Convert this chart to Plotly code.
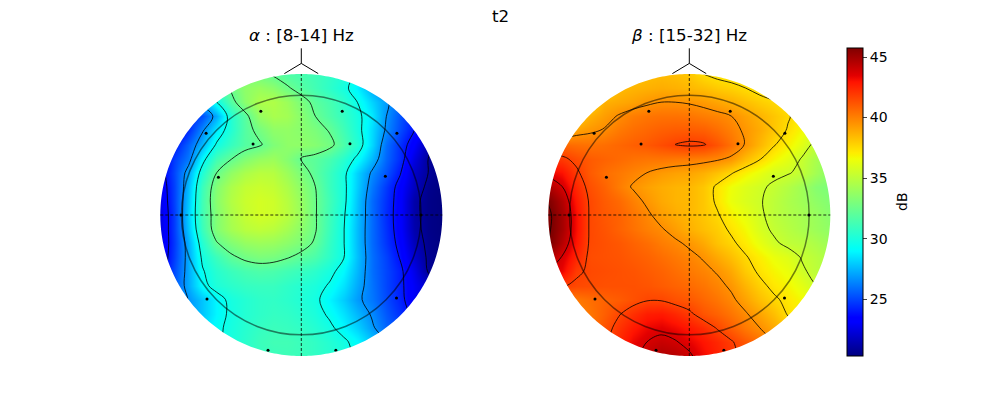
import numpy as np
import plotly.graph_objects as go

grid_x = [-1.0,-0.9,-0.8,-0.7,-0.6,-0.5,-0.4,-0.3,-0.2,-0.1,0.0,0.1,0.2,0.3,0.4,0.5,0.6,0.7,0.8,0.9,1.0]
grid_y = [1.0,0.9,0.8,0.7,0.6,0.5,0.4,0.3,0.2,0.1,0.0,-0.1,-0.2,-0.3,-0.4,-0.5,-0.6,-0.7,-0.8,-0.9,-1.0]

alpha_db = [
[25.6,26.1,26.7,27.6,29.4,32.6,32.9,32.7,32.2,31.6,31.4,31.1,30.7,30.2,29.4,28.3,26.9,25.6,24.5,23.4,22.4],
[25.6,27.2,28.9,30.5,31.5,32.6,33.6,33.9,33.5,32.6,31.8,31.2,30.6,29.9,28.8,27.2,26.1,25.1,24,22.9,21.9],
[22.4,24,25.6,27.2,29.5,31.8,33.5,34.5,34.6,34,33,32,31.4,30.6,29.5,28.1,26.9,25.8,24.5,23.4,22.4],
[21.3,22.4,24.1,25.2,27.2,30.3,31.9,33.8,34.4,34.2,33.4,32.4,31.6,30.8,29.9,28.6,26.7,25.3,24.1,23,22.2],
[21.3,22.7,24.4,26.5,28.6,30.3,31.8,32.8,33.6,33.7,33.4,33,32.3,31.2,30,28.3,26.5,25.1,23.8,22.8,22],
[22.4,24,25.6,27.5,29.7,30.9,31.8,32.2,33.1,33.6,33.6,33.3,32.8,31.6,30.3,28.2,25.9,24.5,23.1,21.3,20.4],
[22.7,24.8,26.1,29,31.2,32.3,33.2,33.8,34,33.3,32.3,32,31.4,30.5,29.2,27.5,25.7,24.4,22.4,20.9,20.3],
[23.1,25,27.2,30.2,32.4,33.7,34.5,34.9,34.8,34,33,32,31,29.9,28.1,26.5,25.3,23.9,21.9,20.9,20.3],
[22.8,24.9,27.6,31,33.2,34.5,35.2,35.4,35.2,34.5,33.5,32.4,31,29.9,28,26.1,24.7,23.3,21.7,20.6,20.3],
[22.6,24.9,27.8,31.2,33.4,34.7,35.4,35.7,35.5,34.8,33.8,32.5,31.2,29.9,27.8,25.8,24.5,23.2,21.2,20.5,20.3],
[22.4,24.8,28,31.2,33.2,34.5,35.3,35.7,35.5,34.9,33.9,32.5,31.1,29.7,27.7,25.8,24.4,23.2,21.2,20.5,20.3],
[22.4,24.8,27.8,31,33.2,34.3,34.9,35.1,34.9,34.3,33.5,32.5,31,29.6,27.6,25.8,24.5,23.2,21.3,20.5,20.3],
[22.4,24.7,27.3,30.3,32.3,33.2,33.8,34,33.9,33.5,33,32.2,30.8,29.6,27.6,25.8,24.6,23.4,21.6,20.6,20.3],
[22.6,24.8,27.2,29.8,31,32.1,32.7,33,32.9,32.5,32,31.5,30.6,29.6,27.7,25.9,24.9,23.7,22,20.7,20.3],
[22.9,25.1,27.2,29.4,30.4,31,31.4,31.6,31.5,31.2,30.9,30.5,29.9,29,27.5,25.9,25,24.1,22.6,20.8,20.3],
[23.4,25.4,27.2,29.1,30.1,30.5,30.8,30.9,30.9,30.6,30.3,30,29.4,28.5,27.2,26,25,24.1,22.9,21.9,20.8],
[24.5,25.6,26.7,27.8,28.9,29.9,30.3,30.6,30.7,30.5,30.2,29.8,28.9,28,26.9,26.1,25.1,24.2,22.9,21.9,21.3],
[24.5,25.6,26.7,27.8,28.9,29.8,30.3,30.6,30.8,30.7,30.4,30,29.3,28.5,27.5,26.5,25.4,24.5,23.4,22.4,21.9],
[25.1,26.1,27.2,28.3,29.2,29.9,30.4,30.8,31,30.9,30.7,30.3,29.8,29,28.1,26.9,25.7,25.1,24,23.4,22.4],
[25.6,26.7,27.8,28.6,29.2,30,30.5,31,31.2,31.2,31,30.7,30.3,29.8,29,27.8,26.7,25.6,24.5,24,23.4],
[25.6,26.7,27.8,28.6,29.2,29.9,30.4,30.8,31,31.1,31,30.7,30.4,30,29.2,28.1,26.9,25.8,24.7,24.1,23.4],
]

beta_db = [
[35,35.3,35.8,36.4,37,37.6,38,38.3,38.4,38.3,38.1,37.5,37.2,37,36.8,36.5,36.2,35.8,35.4,35,34.6],
[35,35.4,35.9,36.5,37.4,38.4,38.6,38.7,38.8,38.7,38.5,38.3,38,37.8,37.5,37.1,36.8,36.5,36,35.6,35.2],
[35.5,36,36.5,37.6,38.7,38.9,39.1,39.4,39.6,39.6,39.5,39.3,39,38.7,38.3,37.9,37.6,37.2,36.6,36,35],
[36.5,36.8,37.8,38.7,39.2,39.7,40.1,40.3,40.4,40.4,40.3,40.1,39.9,39.6,39.1,38.6,38.1,37.6,37,36.3,35.5],
[38,38.3,39.1,39.4,39.7,40.2,40.5,40.7,40.9,41,41,40.9,40.5,40,39.4,38.8,38.1,37.4,36.7,36,35],
[41,40.7,40.5,40.4,40.5,40.7,40.9,41.1,41.4,41.7,41.9,41.8,41.2,40.4,39.5,38.5,37.6,36.9,36.1,35,34.2],
[42.2,41.9,41.4,41,40.8,40.6,40.4,40.3,40.3,40.2,40.1,40,39.8,39.4,38.4,37.6,36.8,36.2,35.3,34.4,33.5],
[43.4,43,41.9,41,40.5,40.2,39.9,39.6,39.3,39.1,39,38.7,38.2,37.6,36.9,36.3,35.7,35.5,35.1,34.2,33.4],
[44.8,43.8,42.4,41.3,40.8,40.1,39.5,39.1,38.8,38.6,38.5,38.1,37.3,36.5,36,35.6,35.2,34.7,34.1,33.3,33],
[45.8,44.6,42.8,41.5,41,40.6,40,39.4,38.9,38.6,38.5,38.1,37.3,36.4,35.9,35.5,35,34.5,34.1,33.6,33.2],
[46.2,44.9,43.1,41.5,41.1,40.8,40.3,39.8,39.2,38.8,38.5,38.1,37.6,36.9,36.3,35.6,35,34.6,34.3,33.9,33.4],
[46.1,44.9,43.1,41.5,41.2,40.8,40.4,40,39.7,39.2,38.7,38.3,37.9,37.3,36.7,35.8,35.2,34.8,34.4,34,33.6],
[46,44.5,42.9,41.5,41.3,41.1,40.8,40.5,40.1,39.8,39.4,38.9,38.2,37.7,37.1,36.3,35.6,35.1,34.9,34.5,34],
[44.8,43.7,42.5,41.4,41.3,41.2,41,40.8,40.5,40.2,39.9,39.5,38.9,38.3,37.6,37,36.4,36,35.3,34.9,34.4],
[43.8,43.3,41.9,41.5,41.4,41.3,41.2,41,40.8,40.5,40.2,39.9,39.5,38.9,38,37.3,36.8,36.4,35.6,35,34.5],
[42,41.8,41.5,41.4,41.3,41.3,41.3,41.2,41,40.8,40.6,40.3,39.9,39.4,38.6,37.8,37.2,36.8,36.2,35.4,35],
[40,40,40.2,40.5,40.8,41,41.3,41.6,41.6,41.3,41.1,40.7,40.3,39.8,39.1,38.3,37.7,37.2,36.7,36.2,35.5],
[39,39.3,39.8,40.3,40.9,41.6,42.2,42.7,42.8,42.4,41.9,41.2,40.8,40.3,39.7,39,38.3,37.4,36.9,36.4,36],
[38.5,39,39.5,40.2,41.2,42.1,42.8,43.3,43.5,43.2,42.8,42.3,41.6,40.9,40.2,39.6,38.9,38,37.4,36.8,36.3],
[38.5,39,39.7,40.6,41.5,42.4,43.3,43.8,44.1,43.9,43.4,42.9,42.4,41.8,41.1,40.4,39.5,38.7,37.9,37.3,36.8],
[38.5,39,39.8,40.8,41.8,42.7,43.5,44.2,44.7,44.5,44,43.2,42.6,42,41.3,40.6,39.7,38.9,38.2,37.6,37],
]

sensor_x = [-0.287,0.29,-0.675,0.678,-0.342,0.345,-0.588,0.596,-0.853,0.848,-0.669,0.675,-0.236,0.245]
sensor_y = [0.735,0.735,0.579,0.579,0.503,0.505,0.267,0.275,0.0,0.0,-0.596,-0.589,-0.96,-0.96]

titles = ["<i>α</i> : [8-14] Hz", "<i>β</i> : [15-32] Hz"]
alpha_levels = dict(start=20.9, end=32.4, size=2.875)
beta_levels = dict(start=35.4, end=45.9, size=2.1)
cbar_ticks = [25, 30, 35, 40, 45]

jet = [
    [0.0, "rgb(0,0,128)"], [0.11, "rgb(0,0,255)"], [0.125, "rgb(0,0,255)"],
    [0.34, "rgb(0,250,255)"], [0.35, "rgb(0,255,246)"], [0.375, "rgb(21,255,226)"],
    [0.64, "rgb(240,255,6)"], [0.65, "rgb(247,245,0)"], [0.66, "rgb(255,236,0)"],
    [0.89, "rgb(255,19,0)"], [0.91, "rgb(227,0,0)"], [1.0, "rgb(128,0,0)"],
]

FONT = "DejaVu Sans"
fig = go.Figure()
panels = [("x", "y", alpha_db, alpha_levels), ("x2", "y2", beta_db, beta_levels)]
for xa, ya, z, lev in panels:
    fig.add_trace(go.Heatmap(x=grid_x, y=grid_y, z=z, coloraxis="coloraxis",
                             zsmooth="best", xaxis=xa, yaxis=ya, hoverinfo="skip"))
    fig.add_trace(go.Contour(x=grid_x, y=grid_y, z=z, xaxis=xa, yaxis=ya, showscale=False,
                             autocontour=False, contours=dict(coloring="none", **lev),
                             line=dict(color="black", width=0.8, smoothing=1.0),
                             hoverinfo="skip"))
    fig.add_trace(go.Scatter(x=sensor_x, y=sensor_y, mode="markers", xaxis=xa, yaxis=ya,
                             marker=dict(color="black", size=3), hoverinfo="skip"))

# white surround that clips the map to the head disc
t = np.linspace(0, 2 * np.pi, 361)
ring = " ".join(("M" if i == 0 else "L") + f"{np.cos(a):.4f},{np.sin(a):.4f}" for i, a in enumerate(t))
mask_path = "M-1.07,-1.07 L1.07,-1.07 L1.07,1.07 L-1.07,1.07 Z " + ring + " Z"

shapes = []
for xr, yr in (("x", "y"), ("x2", "y2")):
    common = dict(xref=xr, yref=yr, layer="above")
    solid = dict(color="black", width=1)
    dash = dict(color="black", width=0.8, dash="3px,2px")
    shapes += [
        dict(type="path", path=mask_path, fillcolor="white", line=dict(width=0), **common),
        dict(type="line", x0=-1, x1=1, y0=0, y1=0, line=dash, **common),
        dict(type="line", x0=0, x1=0, y0=-1, y1=1, line=dash, **common),
        dict(type="circle", x0=-0.85, x1=0.85, y0=-0.85, y1=0.85,
             line=dict(color="rgba(0,0,0,0.5)", width=1.5), **common),
        dict(type="path", path="M-0.12,1.003 L0,1.075 L0.12,1.003", line=solid, **common),
        dict(type="line", x0=0, x1=0, y0=1.075, y1=1.182, line=solid, **common),
    ]

axis = dict(range=[-1.2, 1.2], visible=False, fixedrange=True)
fig.update_layout(
    width=1000, height=400, margin=dict(l=0, r=0, t=0, b=0),
    paper_bgcolor="white", plot_bgcolor="rgba(0,0,0,0)", showlegend=False,
    font=dict(family=FONT, color="black", size=14),
    xaxis=dict(domain=[0.1321, 0.4705], **axis),
    yaxis=dict(domain=[0.0395, 0.8855], **axis),
    xaxis2=dict(domain=[0.5201, 0.8585], **axis),
    yaxis2=dict(domain=[0.0395, 0.8855], **axis),
    coloraxis=dict(
        colorscale=jet, cmin=20.3, cmax=45.75,
        colorbar=dict(x=0.847, xanchor="left", y=0.88, yanchor="top", len=0.77, lenmode="fraction",
                      thickness=16, thicknessmode="pixels", xpad=0, ypad=0,
                      outlinewidth=1, outlinecolor="black",
                      tickmode="array", tickvals=cbar_ticks, ticks="outside", ticklen=4,
                      tickwidth=1, tickfont=dict(family=FONT, size=14, color="black")),
    ),
    shapes=shapes,
    annotations=[
        dict(text="t2", x=0.5, y=1 - 16 / 400, xref="paper", yref="paper", showarrow=False,
             xanchor="center", yanchor="middle", font=dict(family=FONT, size=16.7)),
        dict(text=titles[0], x=0.3013, y=1 - 35 / 400, xref="paper", yref="paper", showarrow=False,
             xanchor="center", yanchor="middle", font=dict(family=FONT, size=16.7)),
        dict(text=titles[1], x=0.6893, y=1 - 35 / 400, xref="paper", yref="paper", showarrow=False,
             xanchor="center", yanchor="middle", font=dict(family=FONT, size=16.7)),
        dict(text="dB", x=0.902, y=1 - 202 / 400, xref="paper", yref="paper", showarrow=False,
             textangle=-90, xanchor="center", yanchor="middle", font=dict(family=FONT, size=14)),
    ],
)

fig.write_html("out.html", config={"displayModeBar": False},
               post_script="document.body.style.margin='0';document.body.style.overflow='hidden';")
